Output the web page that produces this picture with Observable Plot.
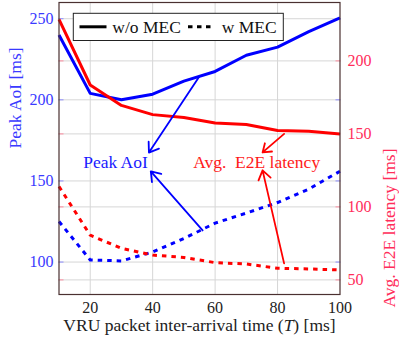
<!DOCTYPE html>
<html><head><meta charset="utf-8">
<script src="https://cdn.jsdelivr.net/npm/d3@7"></script>
<script src="https://cdn.jsdelivr.net/npm/@observablehq/plot@0.6"></script>
<style>
body{margin:0;background:#fff}
svg, svg text, svg tspan{font-family:"Liberation Serif","Times New Roman",serif !important;}
</style>
</head><body><div id="chart"></div>
<script>
// ---- data ----
const T = [10,20,30,40,50,60,70,80,90,100];
const aoiWoMEC = [240,204,200,203.5,211.5,217.5,227.5,232.5,242,250.5];   // left axis
const aoiWMEC  = [125,101.3,100.7,106.2,114.5,124,130.2,136.7,145,156];   // left axis
const e2eWoMEC = [228.5,183.5,169.5,163.2,161.3,157.5,156.5,152.3,151.8,150]; // right axis
const e2eWMEC  = [114,80.6,71.6,67,65.4,61.8,60.9,58,57.5,56.8];          // right axis
const xTicks = [20,40,60,80,100];
const leftTicks = [100,150,200,250];
const rightTicks = [50,100,150,200];
const leftDomain = [80,260];
const rightDomain = [40,240];
const xLabel = "VRU packet inter-arrival time (T) [ms]";
const leftLabel = "Peak AoI [ms]";
const rightLabel = "Avg. E2E latency [ms]";
const legendLabels = ["w/o MEC","w MEC"];
// annotations (x in ms, y in own-axis units)
const annText = ["Peak AoI","Avg.  E2E latency"];
const annAxis = ["left","left"];
const annX = [28.1,73.3];
const annY = [161.4,161.4];
const annColor = ["#1a1aff","#ff1a1a"];
const arrX1 = [55,56,82.1,82.1];
const arrY1 = [214.6,119.5,150,61.3];
const arrX2 = [38.8,39.4,75.2,75.2];
const arrY2 = [167.5,155.9,137.3,125];
const arrAxis = ["left","left","right","right"];
const arrColor = ["#0000ff","#0000ff","#ff0000","#ff0000"];

const BLUE = "#0000ff", RED = "#ff0000";
const WORD = 17.5;
const toLeft = v => leftDomain[0] + (v - rightDomain[0])*(leftDomain[1]-leftDomain[0])/(rightDomain[1]-rightDomain[0]);
const fromLeft = v => rightDomain[0] + (v - leftDomain[0])*(rightDomain[1]-rightDomain[0])/(leftDomain[1]-leftDomain[0]);

const series = [
  {vals: aoiWoMEC, axis:"left", color:BLUE, dash:null},
  {vals: aoiWMEC, axis:"left", color:BLUE, dash:"4.5,5"},
  {vals: e2eWoMEC, axis:"right", color:RED, dash:null},
  {vals: e2eWMEC, axis:"right", color:RED, dash:"4.5,5"}
];
const rows = s => T.map((t,i)=>({t, v: s.axis==="left" ? s.vals[i] : toLeft(s.vals[i])}));
const arrows = arrX1.map((_,i)=>({x1:arrX1[i], x2:arrX2[i],
  y1: arrAxis[i]==="left"?arrY1[i]:toLeft(arrY1[i]),
  y2: arrAxis[i]==="left"?arrY2[i]:toLeft(arrY2[i]), c:arrColor[i]}));
const anns = annText.map((t,i)=>({t, x:annX[i], y: annAxis[i]==="left"?annY[i]:toLeft(annY[i]), c:annColor[i]}));

const GRID = "#d6d6d6";
const plot = Plot.plot({
  width:399, height:339,
  marginLeft:58.5, marginRight:59.5, marginTop:2, marginBottom:45,
  x:{domain:[10,100]},
  y:{domain:leftDomain},
  style:{fontSize:"16px", background:"white", overflow:"visible"},
  marks:[
    Plot.ruleX(xTicks.slice(0,-1), {stroke:GRID, strokeWidth:1}),
    Plot.ruleY(leftTicks, {stroke:GRID, strokeWidth:1}),
    Plot.ruleY(rightTicks.map(toLeft), {stroke:GRID, strokeWidth:1}),
    // small inner ticks
    Plot.axisY(leftTicks, {anchor:"left", tickSize:5, dx:5, tickFormat:()=>"", label:null, stroke:"#8c8cff"}),
    Plot.axisY(leftTicks, {anchor:"right", tickSize:5, dx:-5, tickFormat:()=>"", label:null, stroke:"#8c8cff"}),
    Plot.axisY(rightTicks.map(toLeft), {anchor:"left", tickSize:5, dx:5, tickFormat:()=>"", label:null, stroke:"#ff8ca0"}),
    Plot.axisY(rightTicks.map(toLeft), {anchor:"right", tickSize:5, dx:-5, tickFormat:()=>"", label:null, stroke:"#ff8ca0"}),
    ...series.map(s => Plot.line(rows(s), {x:"t", y:"v", stroke:s.color, strokeWidth:3,
        strokeDasharray:s.dash ?? undefined, strokeLinecap:"butt", strokeLinejoin:"round"})),
    Plot.arrow(arrows, {x1:"x1", y1:"y1", x2:"x2", y2:"y2", stroke:"c", strokeWidth:1.8, headLength:9, headAngle:70}),
    Plot.text(anns, {x:"x", y:"y", text:"t", fill:"c", fontSize:WORD, lineAnchor:"middle"}),
    Plot.frame({stroke:"#4a3030", strokeWidth:1.2}),
    Plot.axisX(xTicks, {tickSize:0, tickPadding:7, label:null, fill:"#222"}),
    Plot.axisY(leftTicks, {anchor:"left", tickSize:0, tickPadding:5.5, label:null, fill:"#3a3aff"}),
    Plot.axisY(rightTicks.map(toLeft), {anchor:"right", tickSize:0, tickPadding:7.5, label:null, fill:"#ff2d5a",
       tickFormat: d => String(Math.round(fromLeft(d)))}),
    Plot.text([xLabel], {frameAnchor:"bottom", dy:31, text:d=>d, fill:"#222", fontSize:WORD, lineAnchor:"middle"}),
    Plot.text([leftLabel], {frameAnchor:"left", dx:-43.5, rotate:-90, text:d=>d, fill:"#3a3aff", fontSize:WORD, lineAnchor:"middle"}),
    Plot.text([rightLabel], {frameAnchor:"right", dx:49.5, rotate:-90, text:d=>d, fill:"#ff2d5a", fontSize:WORD, lineAnchor:"middle"})
  ]
});
document.getElementById("chart").appendChild(plot);

// italic T in x label
d3.select(plot).selectAll("text").filter(function(){return this.textContent===xLabel;}).each(function(){
  const el = d3.select(this); el.text("");
  el.append("tspan").text("VRU packet inter-arrival time (");
  el.append("tspan").attr("font-style","italic").text("T");
  el.append("tspan").text(") [ms]");
});

// legend box
const lg = d3.select(plot).append("g").attr("font-size",WORD).attr("text-anchor","start");
lg.append("rect").attr("x",73.3).attr("y",13.3).attr("width",210).attr("height",27.2)
  .attr("fill","white").attr("stroke","#222").attr("stroke-width",1);
lg.append("line").attr("x1",79.5).attr("x2",106.5).attr("y1",26.8).attr("y2",26.8).attr("stroke","#000").attr("stroke-width",3);
lg.append("text").attr("x",112.3).attr("y",32.5).attr("fill","#111").text(legendLabels[0]);
lg.append("line").attr("x1",188).attr("x2",214).attr("y1",26.8).attr("y2",26.8).attr("stroke","#000").attr("stroke-width",3).attr("stroke-dasharray","4.5,4.5");
lg.append("text").attr("x",221.7).attr("y",32.5).attr("fill","#111").text(legendLabels[1]);
</script>
</body></html>
